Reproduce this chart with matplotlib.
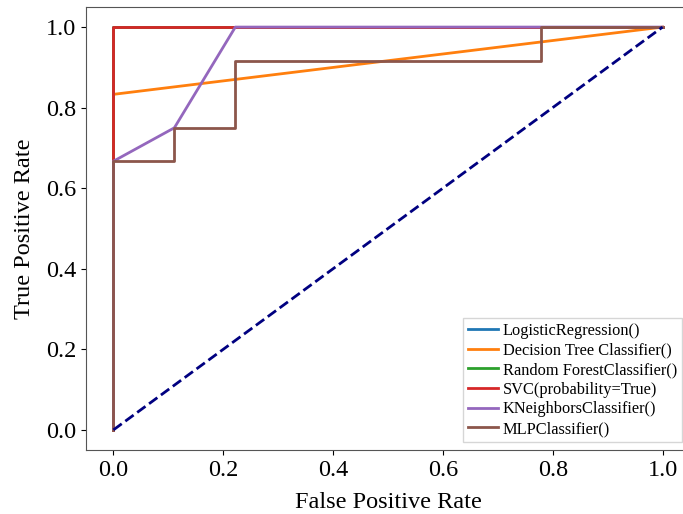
"""
ROC curves for six classifiers, drawn from the fpr/tpr points read off the chart.
"""
import matplotlib
matplotlib.use("Agg")
import matplotlib.pyplot as plt

labels = [
    "LogisticRegression()",
    "Decision Tree Classifier()",
    "Random ForestClassifier()",
    "SVC(probability=True)",
    "KNeighborsClassifier()",
    "MLPClassifier()",
]

lr_fpr = [0.0, 0.0, 1.0]
lr_tpr = [0.0, 1.0, 1.0]

dt_fpr = [0.0, 0.0, 1.0]
dt_tpr = [0.0, 0.833, 1.0]

rf_fpr = [0.0, 0.0, 1.0]
rf_tpr = [0.0, 1.0, 1.0]

svc_fpr = [0.0, 0.0, 1.0]
svc_tpr = [0.0, 1.0, 1.0]

knn_fpr = [0.0, 0.0, 0.111, 0.222, 1.0]
knn_tpr = [0.0, 0.667, 0.75, 1.0, 1.0]

mlp_fpr = [0.0, 0.0, 0.111, 0.111, 0.222, 0.222, 0.778, 0.778, 1.0]
mlp_tpr = [0.0, 0.667, 0.667, 0.75, 0.75, 0.917, 0.917, 1.0, 1.0]

plt.rcParams["font.family"] = ["Liberation Serif", "DejaVu Serif"]

fig = plt.figure(figsize=(6.83, 5.14), dpi=100)
ax = fig.add_axes([0.1259, 0.1245, 0.8843, 0.862])

curves = [
    (lr_fpr, lr_tpr),
    (dt_fpr, dt_tpr),
    (rf_fpr, rf_tpr),
    (svc_fpr, svc_tpr),
    (knn_fpr, knn_tpr),
    (mlp_fpr, mlp_tpr),
]
for (fpr, tpr), name in zip(curves, labels):
    ax.plot(fpr, tpr, lw=2, label=name)

ax.plot([0, 1], [0, 1], color="navy", lw=2, linestyle="--")

ax.set_xlabel("False Positive Rate", fontsize=17.5, labelpad=8)
ax.set_ylabel("True Positive Rate", fontsize=17.5, labelpad=8)
ax.tick_params(labelsize=17.5)
for side in ax.spines.values():
    side.set_color("#555555")

ax.legend(loc="lower right", fontsize=11.8, borderpad=0.3,
          labelspacing=0.22, handlelength=1.8, handletextpad=0.3,
          borderaxespad=0.5, fancybox=False)

fig.savefig("out.png", dpi=100)
